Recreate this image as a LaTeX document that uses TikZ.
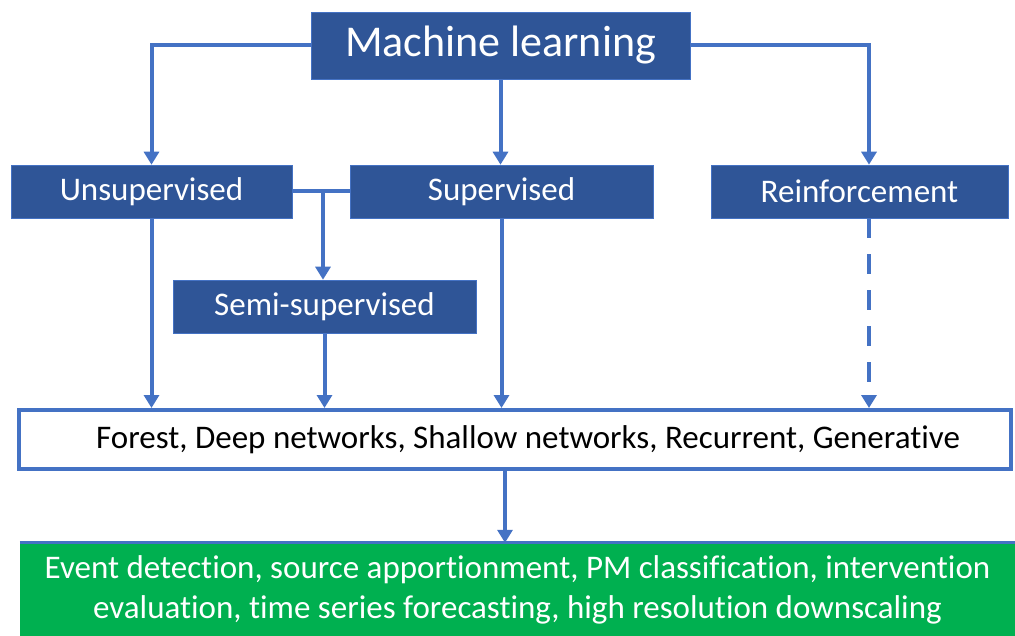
\documentclass[tikz,border=0pt]{standalone}
\usepackage{fontspec}
\setmainfont{Carlito}[Ligatures=NoCommon]
\usetikzlibrary{arrows.meta}
\definecolor{boxblue}{RGB}{47,85,151}
\definecolor{lineblue}{RGB}{68,114,196}
\definecolor{boxgreen}{RGB}{0,176,80}
\begin{document}
\begin{tikzpicture}[x=1pt,y=-1pt,
  catbox/.style={fill=boxblue, draw=lineblue, line width=0.6pt, text=white, inner sep=0pt, font=\fontsize{33}{36}\selectfont},
  conn/.style={draw=lineblue, line width=4pt, -{Triangle[width=15pt,length=13pt]}},
  plainconn/.style={draw=lineblue, line width=4pt},
]
\useasboundingbox (0,0) rectangle (1015,636);
\node[catbox, minimum width=379pt, minimum height=67pt, font=\fontsize{44}{48}\selectfont] (ml) at (500.5,45.5) {Machine learning};
\node[catbox, minimum width=281pt, minimum height=53pt] (unsup) at (151.5,191.5) {Unsupervised};
\node[catbox, minimum width=303pt, minimum height=53pt] (sup) at (501.5,191.5) {Supervised};
\node[catbox, minimum width=297pt, minimum height=53pt] (reinf) at (859.5,191.5) {Reinforcement};
\node[catbox, minimum width=303pt, minimum height=53pt] (semi) at (324.5,306.5) {Semi-supervised};
\node[draw=lineblue, line width=4pt, fill=white, minimum width=992pt, minimum height=59pt, inner sep=0pt, font=\fontsize{33}{36}\selectfont] (forest) at (515,439.5) {\hspace*{26pt}Forest, Deep networks, Shallow networks, Recurrent, Generative};
\node[fill=boxgreen, minimum width=995pt, minimum height=93pt, inner sep=0pt, text=white, align=center, font=\fontsize{33}{40}\selectfont] (green) at (517.5,589.5) {Event detection, source apportionment, PM classification, intervention\\evaluation, time series forecasting, high resolution downscaling};
\draw[lineblue, line width=3pt] (green.north west) -- (green.north east);
\coordinate (rx) at (869,0);
\coordinate (gx) at (505,0);
\coordinate (jx) at (323,191.5);
% connectors
\draw[conn] (ml.west) -| (unsup.north);
\draw[conn] (ml.south) -- (ml.south |- sup.north);
\draw[conn] (ml.east) -| (rx |- reinf.north);
\draw[plainconn] (unsup.east) -- (sup.west);
\draw[conn] (jx) -- (jx |- semi.north);
\draw[conn] (unsup.south) -- (unsup.south |- forest.north);
\draw[conn] (semi.south) -- (semi.south |- forest.north);
\draw[conn] (sup.south) -- (sup.south |- forest.north);
\draw[conn, dash pattern=on 20pt off 16pt] (rx |- reinf.south) -- (rx |- forest.north);
\draw[conn] (gx |- forest.south) -- (gx |- green.north);
\end{tikzpicture}
\end{document}
